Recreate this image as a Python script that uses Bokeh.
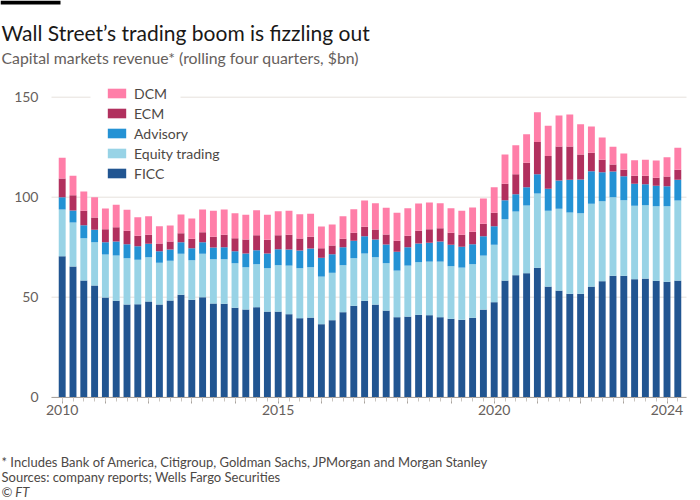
from bokeh.plotting import figure
from bokeh.models import (FixedTicker, Label, Legend, LegendItem, BoxAnnotation,
                          Range1d, ColumnDataSource)
from bokeh.embed import file_html
from bokeh.resources import INLINE

# ---- data (rolling four quarters, $bn), 2010 Q1 .. 2024 Q2 ----
quarters = [f"{y} Q{q}" for y in range(2010, 2025) for q in range(1, 5)][:58]

ficc = [70.5, 65.3, 58.3, 55.8, 49.8, 48.2, 46.3, 46.5, 47.8, 46.3,
        48.3, 51.2, 48.7, 50.0, 46.8, 46.7, 44.7, 43.8, 45.0, 42.8,
        42.8, 41.5, 39.5, 39.8, 36.5, 38.5, 42.5, 45.7, 48.2, 46.3,
        43.3, 40.0, 40.3, 41.2, 41.0, 40.0, 39.2, 38.7, 39.7, 43.8,
        47.5, 58.3, 61.0, 62.0, 64.7, 55.3, 53.3, 51.7, 51.7, 55.3,
        58.0, 60.7, 60.7, 59.0, 59.3, 58.2, 57.7, 58.3]
equity = [23.3, 22.0, 21.2, 21.7, 21.5, 22.6, 23.2, 22.2, 22.2, 20.9,
          19.9, 20.5, 19.8, 21.7, 22.2, 22.3, 22.3, 21.2, 21.5, 21.7,
          23.2, 24.3, 25.0, 25.2, 23.8, 23.7, 23.5, 23.8, 23.6, 23.7,
          23.7, 23.3, 25.5, 26.3, 26.8, 27.8, 26.3, 26.1, 26.8, 27.0,
          28.7, 30.7, 31.8, 33.8, 37.1, 37.9, 40.9, 40.6, 40.3, 41.4,
          40.0, 39.3, 37.8, 36.7, 36.7, 37.3, 37.8, 40.0]
advisory = [6.2, 6.0, 6.5, 6.2, 6.2, 7.0, 7.0, 6.8, 6.7, 5.8,
            5.6, 5.8, 6.0, 5.8, 5.8, 6.0, 6.0, 6.8, 7.0, 7.3,
            8.0, 8.0, 8.8, 9.3, 9.4, 9.3, 9.0, 8.7, 8.7, 8.8,
            9.3, 9.4, 9.2, 9.3, 9.4, 10.0, 10.7, 10.4, 10.0, 9.7,
            9.3, 9.5, 8.7, 9.2, 9.7, 11.0, 14.1, 16.4, 16.8, 16.3,
            14.5, 12.8, 12.0, 11.0, 10.5, 10.2, 10.0, 10.4]
ecm = [9.3, 7.7, 7.2, 6.1, 6.5, 7.2, 6.7, 5.2, 4.5, 3.8,
       4.0, 4.5, 4.7, 5.0, 5.4, 6.2, 6.5, 7.0, 7.5, 6.9,
       7.0, 7.4, 6.0, 5.9, 4.8, 4.3, 4.2, 4.0, 4.7, 5.0,
       5.0, 5.5, 5.7, 6.4, 6.8, 6.7, 6.0, 6.0, 6.2, 6.2,
       6.7, 8.2, 10.0, 12.2, 16.1, 16.4, 17.0, 16.6, 12.5, 9.2,
       6.2, 3.5, 3.2, 4.0, 4.2, 4.0, 4.8, 5.0]
dcm = [10.4, 9.7, 9.6, 10.2, 10.3, 11.2, 10.5, 9.3, 9.3, 8.7,
       8.0, 9.3, 10.1, 11.3, 13.0, 12.6, 12.5, 12.4, 12.5, 12.5,
       12.0, 12.0, 12.2, 11.5, 10.8, 10.5, 11.3, 11.8, 13.1, 13.2,
       13.4, 14.0, 13.8, 13.6, 13.3, 12.5, 12.3, 12.0, 12.1, 12.6,
       12.8, 14.6, 14.5, 14.3, 14.9, 15.1, 15.5, 16.0, 15.2, 13.1,
       11.1, 8.9, 8.1, 7.8, 8.0, 8.6, 9.7, 11.0]

series_names = ["FICC", "Equity trading", "Advisory", "ECM", "DCM"]
series_colors = ["#215591", "#98d3e6", "#2492d4", "#b1305e", "#ff7ea8"]
year_labels = {0: "2010", 20: "2015", 40: "2020", 56: "2024"}
y_ticks = [0, 50, 100, 150]

# ---- layout constants (pixels) ----
W, H = 700, 500
PX_PER_BAR = 10.8          # horizontal pixels per quarter
PX_PER_BN = 2.0            # vertical pixels per $bn
X0_PX, Y0_PX = 61.7, 396.7  # pixel position of first bar / zero line
PLOT_L, PLOT_R = 51, 686    # horizontal extent of the plot area

def xd(px):
    return (px - X0_PX) / PX_PER_BAR

FONT = "Lato"
GREY = "#66605c"
DARK = "#4d4845"

src = ColumnDataSource(dict(x=list(range(len(quarters))), q=quarters,
                            FICC=ficc, Equity=equity, Advisory=advisory,
                            ECM=ecm, DCM=dcm))

p = figure(width=W, height=H, output_backend="svg", toolbar_location=None,
           x_range=Range1d(xd(0), xd(W)),
           y_range=Range1d((Y0_PX - H) / PX_PER_BN, Y0_PX / PX_PER_BN),
           min_border=0, min_border_left=0, min_border_right=0,
           min_border_top=0, min_border_bottom=0)
p.outline_line_color = None
p.background_fill_color = "white"
p.border_fill_color = "white"
p.xgrid.visible = False
p.ygrid.visible = False

# horizontal gridlines limited to the plot area
p.segment(x0=[xd(PLOT_L)] * len(y_ticks), x1=[xd(PLOT_R)] * len(y_ticks),
          y0=y_ticks, y1=y_ticks, line_color="#e6e1dc", line_width=1)

rs = p.vbar_stack(["FICC", "Equity", "Advisory", "ECM", "DCM"], x="x", width=0.64,
                  source=src, fill_color=series_colors, line_color=None)

# axes (fixed inside the frame)
p.yaxis.fixed_location = xd(50)
p.yaxis.ticker = FixedTicker(ticks=y_ticks)
p.yaxis.axis_line_color = None
p.yaxis.major_tick_line_color = None
p.yaxis.minor_tick_line_color = None
p.yaxis.major_label_standoff = 6
p.yaxis.major_label_text_font = FONT
p.yaxis.major_label_text_font_size = "14px"
p.yaxis.major_label_text_color = GREY

p.xaxis.fixed_location = 0
p.xaxis.bounds = (xd(PLOT_L), xd(PLOT_R))
p.xaxis.ticker = FixedTicker(ticks=list(range(0, len(quarters), 4)),
                             minor_ticks=list(range(len(quarters))))
p.xaxis.major_label_overrides = {i: year_labels.get(i, "") for i in range(0, len(quarters), 4)}
p.xaxis.axis_line_color = "#a9a39e"
p.xaxis.major_tick_line_color = "#a9a39e"
p.xaxis.minor_tick_line_color = "#c9c4bf"
p.xaxis.major_tick_in = 0
p.xaxis.major_tick_out = 6
p.xaxis.minor_tick_in = 0
p.xaxis.minor_tick_out = 4
p.xaxis.major_label_standoff = 2
p.xaxis.major_label_text_font = FONT
p.xaxis.major_label_text_font_size = "14px"
p.xaxis.major_label_text_color = GREY

# white patch interrupting the 150 gridline behind the legend's first row
p.add_layout(BoxAnnotation(left=xd(90), right=xd(180), bottom=148, top=152,
                           fill_color="white", fill_alpha=1, line_color=None))

legend = Legend(items=[LegendItem(label=n, renderers=[r])
                       for n, r in reversed(list(zip(series_names, rs)))],
                location=(105, H - 181.5), orientation="vertical",
                glyph_width=23, glyph_height=12, label_height=12,
                label_standoff=6, spacing=3, padding=0, margin=0,
                border_line_color=None, background_fill_alpha=0,
                label_text_font=FONT, label_text_font_size="14px",
                label_text_color=DARK)
p.add_layout(legend, "center")

# black bar top-left (FT style)
p.add_layout(BoxAnnotation(left=xd(0), right=xd(60), bottom=(Y0_PX - 4) / PX_PER_BN,
                           top=Y0_PX / PX_PER_BN,
                           fill_color="black", fill_alpha=1, line_color=None))

def lab(text, x, y_page, size, color, style="normal"):
    p.add_layout(Label(x=x, y=H - y_page, x_units="screen", y_units="screen", text=text,
                       text_font=FONT, text_font_size=size, text_color=color,
                       text_font_style=style, text_baseline="alphabetic",
                       text_align="left"))

lab("Wall Street\u2019s trading boom is fizzling out", 1, 31.7, "21px", "#1a1817")
lab("Capital markets revenue* (rolling four quarters, $bn)", 1, 57.3, "15.8px", GREY)
lab("* Includes Bank of America, Citigroup, Goldman Sachs, JPMorgan and Morgan Stanley",
    1, 461, "13px", DARK)
lab("Sources: company reports; Wells Fargo Securities", 1, 476.5, "13px", DARK)
lab("\u00a9 FT", 1, 491, "13px", DARK, "italic")

open("out.html", "w").write(file_html(p, INLINE))
